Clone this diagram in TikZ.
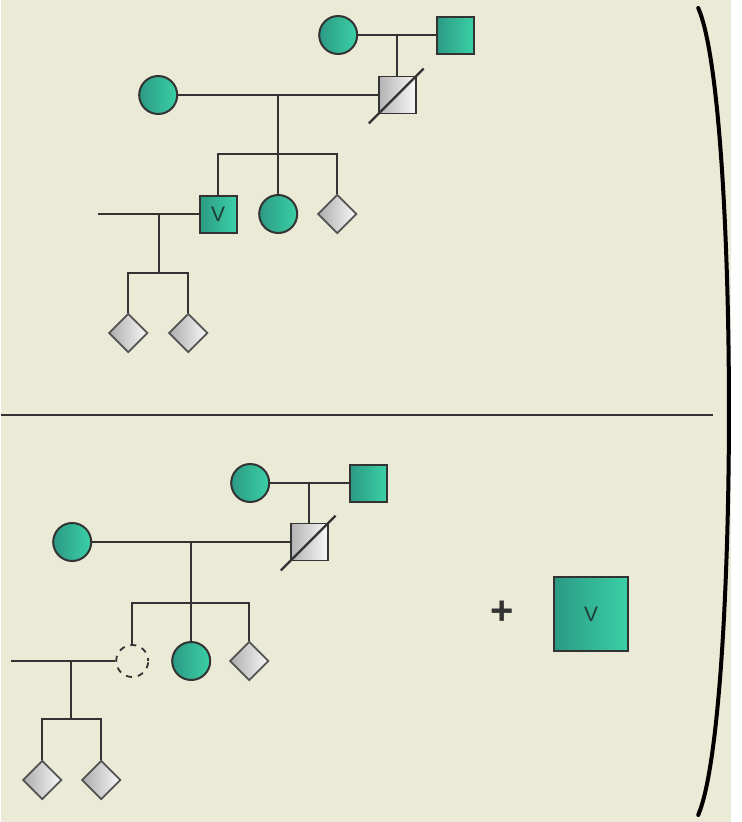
\documentclass[tikz,border=0pt]{standalone}
\usetikzlibrary{shapes.geometric}
\usepackage{fontspec}
\setmainfont{Liberation Sans}
\definecolor{bg}{HTML}{EBEAD6}
\definecolor{tealA}{HTML}{2C9A84}
\definecolor{tealB}{HTML}{3AD0A5}
\definecolor{ln}{HTML}{333333}
\definecolor{vtxt}{HTML}{1E3B34}
\begin{document}
\begin{tikzpicture}[x=1pt,y=-1pt,
  fem/.style={circle,draw=ln,line width=2pt,left color=tealA,right color=tealB,minimum size=38pt,inner sep=0pt},
  mal/.style={rectangle,draw=ln,line width=2pt,left color=tealA,right color=tealB,minimum size=37pt,inner sep=0pt,text=vtxt,font=\fontsize{21}{21}\selectfont},
  unk/.style={diamond,draw=ln!85,line width=1.8pt,left color=gray!65,right color=gray!5,minimum size=39pt,inner sep=0pt},
  dec/.style={rectangle,draw=ln,line width=1.8pt,left color=gray!60,right color=gray!5,minimum size=37pt,inner sep=0pt},
  lost/.style={circle,draw=ln,dash pattern=on 6pt off 6pt,dash phase=3pt,line width=1.8pt,minimum size=32pt,inner sep=0pt},
  link/.style={draw=ln,line width=2.2pt}]
\fill[bg] (0,0) rectangle (730,822);
% ---------- top pedigree ----------
\node[fem] (a1) at (337,35) {};
\node[mal] (a2) at (454,35) {};
\coordinate (j1) at (396,35);
\node[dec] (a3) at (396,95) {};
\draw[link] (a1) -- (a2);
\draw[link] (j1) -- (a3.north);
\draw[link] ([shift={(-9,9)}]a3.south west) -- ([shift={(7,-7)}]a3.north east);
\node[fem] (a4) at (157,95) {};
\draw[link] (a4) -- (a3);
\coordinate (j2) at (277,95);
\coordinate (s2) at (277,154);
\node[mal] (b1) at (217,214) {V};
\node[fem] (b2) at (277,214) {};
\node[unk] (b3) at (336,214) {};
\draw[link] (j2) -- (b2);
\draw[link] (b1.north) -- (b1.north |- s2) -- (b3.north |- s2) -- (b3.north);
\coordinate (p1) at (97,214);
\draw[link] (p1) -- (b1.west);
\coordinate (j3) at (158,214);
\coordinate (s3) at (158,273);
\node[unk] (c1) at (127,333) {};
\node[unk] (c2) at (187,333) {};
\draw[link] (j3) -- (s3);
\draw[link] (c1.north) -- (c1.north |- s3) -- (c2.north |- s3) -- (c2.north);
% ---------- divider and bracket ----------
\coordinate (dv1) at (0,415);
\coordinate (dv2) at (712,415);
\draw[line width=2.4pt,ln] (dv1) -- (dv2);
\coordinate (br1) at (697,8);
\coordinate (br2) at (697,815);
\draw[line width=4pt,black,line cap=round] (br1) .. controls (738,100) and (738,720) .. (br2);
% ---------- bottom pedigree ----------
\node[fem] (d1) at (249,483) {};
\node[mal] (d2) at (367,483) {};
\coordinate (j4) at (308,483);
\node[dec] (d3) at (308,542) {};
\draw[link] (d1) -- (d2);
\draw[link] (j4) -- (d3.north);
\draw[link] ([shift={(-9,9)}]d3.south west) -- ([shift={(7,-7)}]d3.north east);
\node[fem] (d4) at (71,542) {};
\draw[link] (d4) -- (d3);
\coordinate (j5) at (190,542);
\coordinate (s5) at (190,603);
\node[lost] (e1) at (131,661) {};
\node[fem] (e2) at (190,661) {};
\node[unk] (e3) at (248,661) {};
\draw[link] (j5) -- (e2);
\draw[link] (e1.north) -- (e1.north |- s5) -- (e3.north |- s5) -- (e3.north);
\coordinate (p2) at (10,661);
\draw[link] (p2) -- (e1.west);
\coordinate (j6) at (70,661);
\coordinate (s6) at (70,719);
\node[unk] (f1) at (41,780) {};
\node[unk] (f2) at (100,780) {};
\draw[link] (j6) -- (s6);
\draw[link] (f1.north) -- (f1.north |- s6) -- (f2.north |- s6) -- (f2.north);
% ---------- plus V ----------
\node[font=\bfseries\fontsize{40}{40}\selectfont,text=ln] (plus) at (501,613) {+};
\node[mal,minimum size=74pt] (bigv) at (590,614) {V};
\end{tikzpicture}
\end{document}
